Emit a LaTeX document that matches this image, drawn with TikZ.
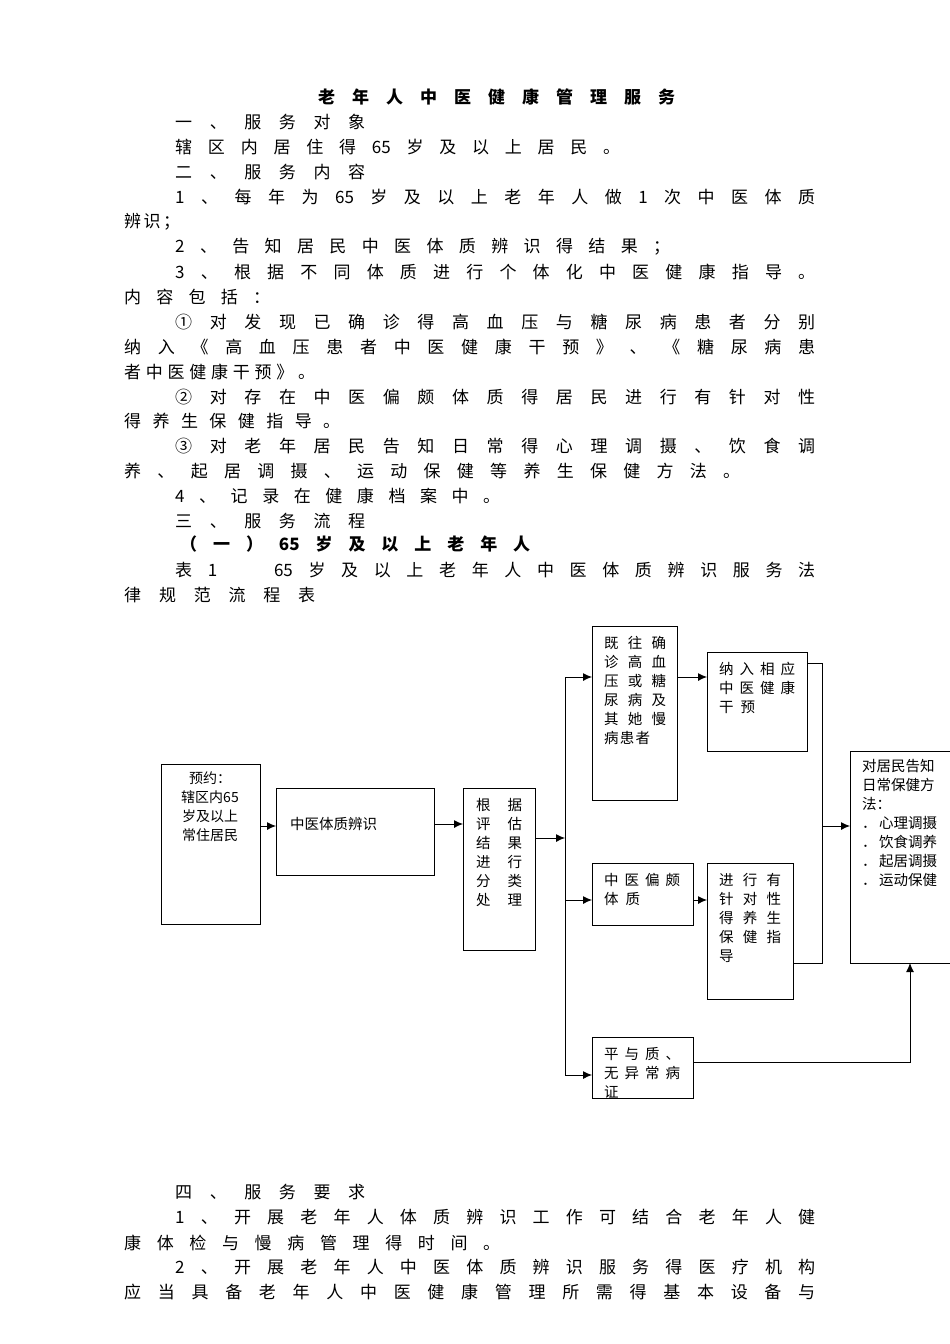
\documentclass[tikz,border=0pt]{standalone}
\usepackage{fontspec}
\setmainfont{Noto Sans CJK SC}
\usetikzlibrary{arrows.meta}
\def\sprStop{\relax}
\def\sprA#1{\def\sprTmp{#1}\ifx\sprTmp\sprStop\unskip\else#1\hfil\expandafter\sprA\fi}
\newcommand\spr[1]{\sprA#1\relax}
\newcommand\txtline[5][]{\node[anchor=west,inner sep=0pt,font=\fontsize{17}{17}\selectfont#1] at (#2,#3) {\makebox[#4pt][s]{\spr{#5}}};}
\newcommand\bxline[4]{\node[anchor=west,inner sep=0pt,font=\fontsize{14.5}{14.5}\selectfont] at (#1,{#2}) {\makebox[#3pt][s]{\expandafter\spr\expandafter{#4}}};}
\begin{document}
\begin{tikzpicture}[x=1pt,y=-1pt,
  box/.style={draw,line width=0.9pt},
  arr/.style={line width=0.9pt,-{Latex[length=9pt,width=8pt]}},
  ln/.style={line width=0.9pt}]
\useasboundingbox (0,0) rectangle (950,1344);
\fill[white] (0,0) rectangle (950,1344);
% text
\txtline[\bfseries]{318}{97}{357}{老年人中医健康管理服务}
\txtline{175}{122}{190}{一、服务对象}
\txtline{175}{147}{445}{辖区内居住得{65}岁及以上居民。}
\txtline{175}{172}{190}{二、服务内容}
\txtline{175}{197}{640}{1、每年为{65}岁及以上老年人做1次中医体质}
\txtline{124}{222}{56}{辨识；}
\txtline{175}{247}{495}{2、告知居民中医体质辨识得结果；}
\txtline{175}{272}{640}{3、根据不同体质进行个体化中医健康指导。}
\txtline{124}{297}{146}{内容包括：}
\txtline{175}{322}{640}{①对发现已确诊得高血压与糖尿病患者分别}
\txtline{124}{347}{691}{纳入《高血压患者中医健康干预》、《糖尿病患}
\txtline{124}{372}{191}{者中医健康干预》。}
\txtline{175}{397}{640}{②对存在中医偏颇体质得居民进行有针对性}
\txtline{124}{421}{216}{得养生保健指导。}
\txtline{175}{446}{640}{③对老年居民告知日常得心理调摄、饮食调}
\txtline{124}{471}{616}{养、起居调摄、运动保健等养生保健方法。}
\txtline{175}{496}{325}{4、记录在健康档案中。}
\txtline{175}{521}{190}{三、服务流程}
\txtline[\bfseries]{180}{544}{350}{（一）{65}岁及以上老年人}
\txtline{175}{570}{640}{表1{\hspace{1.5em}}{65}岁及以上老年人中医体质辨识服务法}
\txtline{124}{595}{191}{律规范流程表}
\txtline{175}{1192}{190}{四、服务要求}
\txtline{175}{1217}{640}{1、开展老年人体质辨识工作可结合老年人健}
\txtline{124}{1243}{376}{康体检与慢病管理得时间。}
\txtline{175}{1267}{640}{2、开展老年人中医体质辨识服务得医疗机构}
\txtline{124}{1292}{691}{应当具备老年人中医健康管理所需得基本设备与}
% boxes
\draw[box] (161,764) rectangle (260,924);
\node[align=center,font=\fontsize{14}{19}\selectfont,anchor=north] (At) at (210,768) {预约：\\辖区内65\\岁及以上\\常住居民};
\draw[box] (276,788) rectangle (434,875);
\node[anchor=west,font=\fontsize{14.5}{15}\selectfont,inner sep=0] (Bt) at (290,824) {中医体质辨识};
\draw[box] (463,788) rectangle (535,950);
\foreach \t [count=\i] in {根{ }据,评{ }估,结{ }果,进{ }行,分{ }类,处{ }理}
  {\bxline{476}{805+19*(\i-1)}{46}{\t}}
\draw[box] (592,626) rectangle (677,800);
\foreach \t [count=\i] in {既往确,诊高血,压或糖,尿病及,其她慢}
  {\bxline{604}{643+19*(\i-1)}{62}{\t}}
\bxline{604}{738}{46}{病患者}
\draw[box] (707,652) rectangle (807,751);
\foreach \t [count=\i] in {纳入相应,中医健康}
  {\bxline{719}{669+19*(\i-1)}{76}{\t}}
\bxline{719}{707}{36}{干预}
\draw[box] (592,863) rectangle (693,925);
\bxline{604}{880}{76}{中医偏颇}
\bxline{604}{899}{36}{体质}
\draw[box] (707,863) rectangle (793,999);
\foreach \t [count=\i] in {进行有,针对性,得养生,保健指}
  {\bxline{719}{880+19*(\i-1)}{62}{\t}}
\bxline{719}{956}{18}{导}
\draw[box] (592,1037) rectangle (693,1098);
\begin{scope}
\clip (592,1037) rectangle (693,1098);
\bxline{604}{1054}{76}{平与质、}
\bxline{604}{1073}{76}{无异常病}
\bxline{604}{1092}{18}{证}
\end{scope}
\draw[box] (850,751) rectangle (990,963);
\node[anchor=north west,align=left,inner sep=0,font=\fontsize{14.5}{19}\selectfont] (It) at (862,759)
  {对居民告知\\日常保健方\\法：\\．\,心理调摄\\．\,饮食调养\\．\,起居调摄\\．\,运动保健};
% connectors
\draw[arr] (260,826) -- (276,826);
\draw[arr] (434,824) -- (463,824);
\draw[arr] (535,838) -- (565,838);
\draw[ln] (565,677) -- (565,1075);
\draw[arr] (565,677) -- (592,677);
\draw[arr] (565,900) -- (592,900);
\draw[arr] (565,1075) -- (592,1075);
\draw[arr] (677,677) -- (707,677);
\draw[arr] (693,900) -- (707,900);
\draw[ln] (807,663) -- (822,663) -- (822,963) -- (793,963);
\draw[arr] (822,826) -- (850,826);
\draw[arr] (693,1062) -- (910,1062) -- (910,963);
\end{tikzpicture}
\end{document}
